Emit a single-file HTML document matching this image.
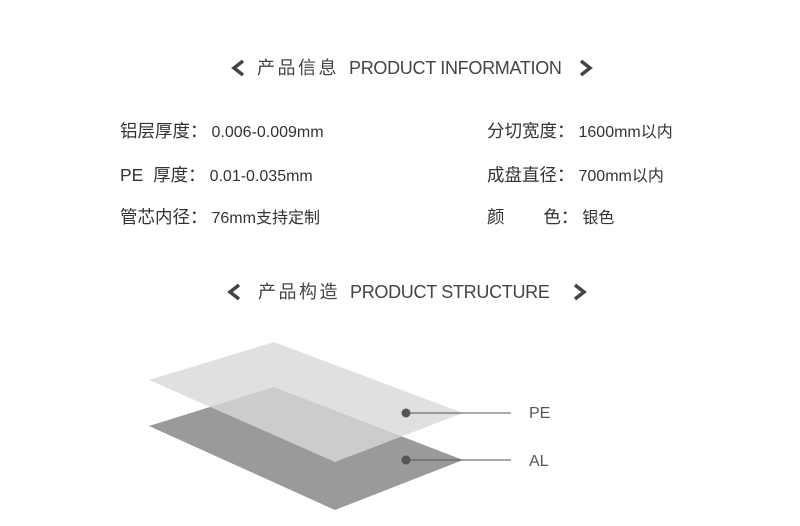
<!DOCTYPE html>
<html><head><meta charset="utf-8"><style>
body{margin:0;width:800px;height:526px;background:#fff;position:relative;overflow:hidden;font-family:"Liberation Sans","Noto Sans CJK SC",sans-serif;color:#333}
.t{position:absolute;white-space:nowrap;line-height:1}
.h{font-size:18px;color:#444;letter-spacing:-0.3px}
.h .c{font-size:18px;letter-spacing:2.5px;margin-right:10px}
.r{font-size:16px;color:#333}
.r .c{font-size:17.5px;margin-right:4px}
</style></head><body>
<svg width="800" height="526" style="position:absolute;left:0;top:0">
<polyline points="243,61 234,68 243,75" fill="none" stroke="#444" stroke-width="3.5"/>
<polyline points="581,61 590,68 581,75" fill="none" stroke="#444" stroke-width="3.5"/>
<polyline points="239,285 230,292 239,299" fill="none" stroke="#444" stroke-width="3.5"/>
<polyline points="575,285 584,292 575,299" fill="none" stroke="#444" stroke-width="3.5"/>
<polygon points="149,426 274,387 463,460 335,510" fill="#9a9a9a"/>
<polygon points="149,380 274,342 463,413 335,462" fill="#d8d8d8" fill-opacity="0.8"/>
<line x1="406" y1="413" x2="511" y2="413" stroke="#555" stroke-width="1"/>
<line x1="406" y1="460" x2="511" y2="460" stroke="#555" stroke-width="1"/>
<circle cx="406" cy="413" r="4.5" fill="#555"/>
<circle cx="406" cy="460" r="4.5" fill="#555"/>
</svg>
<div class="t h" style="left:257px;top:59px"><span class="c">产品信息</span>PRODUCT INFORMATION</div>
<div class="t h" style="left:258px;top:283px"><span class="c">产品构造</span>PRODUCT STRUCTURE</div>
<div class="t r" style="left:120px;top:123px"><span class="c">铝层厚度：</span>0.006-0.009mm</div>
<div class="t r" style="left:120px;top:167px"><span class="c">PE&nbsp; 厚度：</span>0.01-0.035mm</div>
<div class="t r" style="left:120px;top:209px"><span class="c">管芯内径：</span>76mm支持定制</div>
<div class="t r" style="left:487px;top:123px"><span class="c">分切宽度：</span>1600mm以内</div>
<div class="t r" style="left:487px;top:167px"><span class="c">成盘直径：</span>700mm以内</div>
<div class="t r" style="left:487px;top:209px"><span class="c">颜&nbsp;&nbsp;&nbsp;&nbsp;&nbsp;&nbsp;&nbsp; 色：</span>银色</div>
<div class="t" style="left:529px;top:406px;font-size:16px;color:#555">PE</div>
<div class="t" style="left:529px;top:454px;font-size:16px;color:#555">AL</div>
</body></html>
